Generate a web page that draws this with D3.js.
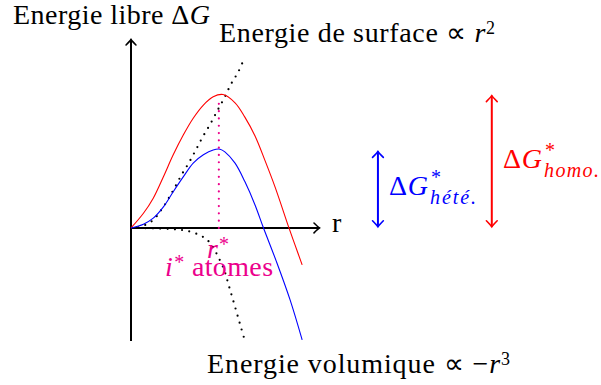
<!DOCTYPE html>
<html>
<head>
<meta charset="utf-8">
<script src="https://cdn.jsdelivr.net/npm/d3@7"></script>
<style>
  body { margin: 0; background: #fff; }
</style>
</head>
<body>
<div id="chart"></div>
<script>
// values, in axis units (r, deltaG)
var homoR = [0, 0.33, 0.59, 0.86, 1.12, 1.39, 1.65, 1.92, 2.18, 2.44, 2.76, 3.02, 3.29, 3.55, 3.82, 4.19, 4.35, 4.54];
var homoG = [0, 0.39, 0.79, 1.36, 1.94, 2.47, 2.91, 3.26, 3.48, 3.54, 3.32, 2.94, 2.44, 1.80, 1.09, 0, -0.45, -0.98];

var heteR = [0, 0.33, 0.59, 0.86, 1.12, 1.39, 1.65, 1.92, 2.18, 2.36, 2.49, 2.76, 3.02, 3.29, 3.51, 3.86, 4.22, 4.54];
var heteG = [0, 0.10, 0.26, 0.56, 0.96, 1.36, 1.72, 1.94, 2.07, 2.09, 2.02, 1.72, 1.23, 0.61, 0.01, -0.90, -1.91, -2.97];

var surfR = [0, 0.2, 0.42, 0.59, 0.72, 0.83, 0.95, 1.05, 1.15, 1.33, 1.53, 1.72, 1.90, 2.10, 2.29, 2.47, 2.65, 2.85, 3.02];
var surfG = [0, 0.02, 0.10, 0.21, 0.36, 0.52, 0.70, 0.88, 1.05, 1.39, 1.72, 2.07, 2.41, 2.75, 3.11, 3.44, 3.81, 4.15, 4.54];

var volR = [0, 0.6, 1.2, 1.5, 1.8, 2.0, 2.15, 2.3, 2.47, 2.6, 2.75, 2.9, 3.02];
var volG = [0, -0.01, -0.04, -0.08, -0.18, -0.3, -0.47, -0.74, -1.11, -1.55, -2.06, -2.58, -2.99];

var rStar = 2.33;          // critical radius
var rStarTop = 3.42;       // top of the dotted guide
var heteBarrier = [0.03, 2.03];
var homoBarrier = [0.03, 3.51];

var w = 601;
var h = 385;

var xScale = d3.scaleLinear().domain([0, 5]).range([131, 319.5]);
var yScale = d3.scaleLinear().domain([-3, 5]).range([341, 39.5]);

var magenta = "#ec008c";
var fs = 28;

var svg = d3.select("#chart")
    .append("svg")
    .attr("width", w)
    .attr("height", h)
    .attr("font-family", "Liberation Serif");

// tikz like "to" arrow tips
var defs = svg.append("defs");
function addTip(id, color, size) {
    defs.append("marker")
        .attr("id", id)
        .attr("viewBox", "-8 -7 10 14")
        .attr("refX", 0)
        .attr("refY", 0)
        .attr("markerWidth", 10)
        .attr("markerHeight", 14)
        .attr("markerUnits", "userSpaceOnUse")
        .attr("orient", "auto-start-reverse")
        .append("path")
        .attr("d", "M" + (-size) + "," + (-size * 0.9) + " Q-1.5,-1 0,0 Q-1.5,1 " + (-size) + "," + (size * 0.9))
        .attr("fill", "none")
        .attr("stroke", color)
        .attr("stroke-width", 1.6)
        .attr("stroke-linecap", "round");
}
addTip("tipK", "#000", 5.5);
addTip("tipB", "#00f", 6);
addTip("tipR", "#f00", 6);

function pts(rs, gs) {
    return rs.map(function (r, i) { return [r, gs[i]]; });
}

var line = d3.line()
    .x(function (d) { return xScale(d[0]); })
    .y(function (d) { return yScale(d[1]); })
    .curve(d3.curveCatmullRom.alpha(0.5));

// axes
svg.append("line")
    .attr("x1", xScale(0)).attr("y1", yScale(-3))
    .attr("x2", xScale(0)).attr("y2", yScale(5))
    .attr("stroke", "#000").attr("stroke-width", 2)
    .attr("marker-end", "url(#tipK)");

svg.append("line")
    .attr("x1", xScale(0)).attr("y1", yScale(0))
    .attr("x2", xScale(5)).attr("y2", yScale(0))
    .attr("stroke", "#000").attr("stroke-width", 2)
    .attr("marker-end", "url(#tipK)");

// dotted energy terms
[pts(surfR, surfG), pts(volR, volG)].forEach(function (d) {
    svg.append("path")
        .datum(d)
        .attr("d", line)
        .attr("fill", "none")
        .attr("stroke", "#000")
        .attr("stroke-width", 2.2)
        .attr("stroke-linecap", "round")
        .attr("stroke-dasharray", "0,7.3");
});

// total free energy curves
svg.append("path")
    .datum(pts(homoR, homoG))
    .attr("d", line)
    .attr("fill", "none")
    .attr("stroke", "#f00")
    .attr("stroke-width", 1.1);

svg.append("path")
    .datum(pts(heteR, heteG))
    .attr("d", line)
    .attr("fill", "none")
    .attr("stroke", "#00f")
    .attr("stroke-width", 1.1);

// r* guide
svg.append("line")
    .attr("x1", xScale(rStar)).attr("y1", yScale(0))
    .attr("x2", xScale(rStar)).attr("y2", yScale(rStarTop))
    .attr("stroke", magenta)
    .attr("stroke-width", 2.2)
    .attr("stroke-linecap", "round")
    .attr("stroke-dasharray", "0,7.3");

// barrier arrows
svg.append("line")
    .attr("x1", xScale(6.55)).attr("y1", yScale(heteBarrier[0]))
    .attr("x2", xScale(6.55)).attr("y2", yScale(heteBarrier[1]))
    .attr("stroke", "#00f").attr("stroke-width", 2)
    .attr("marker-start", "url(#tipB)")
    .attr("marker-end", "url(#tipB)");

svg.append("line")
    .attr("x1", xScale(9.57)).attr("y1", yScale(homoBarrier[0]))
    .attr("x2", xScale(9.57)).attr("y2", yScale(homoBarrier[1]))
    .attr("stroke", "#f00").attr("stroke-width", 2)
    .attr("marker-start", "url(#tipR)")
    .attr("marker-end", "url(#tipR)");

// stretch a label a little so it spans like the TeX original
function fit(t, width) {
    var n = t.text().length;
    var len = t.node().getComputedTextLength();
    if (n > 1) t.attr("letter-spacing", Math.max(0, (width - len) / (n - 1)));
    return t;
}

// labels
var t1 = svg.append("text").attr("x", 13).attr("y", 24).attr("font-size", fs);
t1.append("tspan").text("Energie libre \u0394");
t1.append("tspan").attr("font-style", "italic").text("G");
fit(t1, 197);

var t2 = svg.append("text").attr("x", 219).attr("y", 42).attr("font-size", fs);
t2.append("tspan").text("Energie de surface \u221d ");
t2.append("tspan").attr("font-style", "italic").text("r");
t2.append("tspan").attr("font-size", 18).attr("dy", -8).text("2");
fit(t2, 276);

var t3 = svg.append("text").attr("x", 207).attr("y", 373).attr("font-size", fs);
t3.append("tspan").text("Energie volumique \u221d \u2212");
t3.append("tspan").attr("font-style", "italic").text("r");
t3.append("tspan").attr("font-size", 18).attr("dy", -8).text("3");
fit(t3, 303);

svg.append("text").attr("x", 332).attr("y", 232).attr("font-size", fs).text("r");

var t4 = svg.append("text").attr("x", 207).attr("y", 258).attr("font-size", fs).attr("fill", magenta);
t4.append("tspan").attr("font-style", "italic").text("r");
t4.append("tspan").attr("font-size", 20).attr("dx", 1).attr("dy", -7).text("*");

var t5 = svg.append("text").attr("x", 165).attr("y", 276).attr("font-size", fs).attr("fill", magenta);
t5.append("tspan").attr("font-style", "italic").text("i");
t5.append("tspan").attr("font-size", 20).attr("dx", 1).attr("dy", -7).text("*");
t5.append("tspan").attr("dy", 7).text(" atomes");
fit(t5, 107);

function barrierLabel(x, y, sub, subWidth, color) {
    var main = svg.append("text").attr("x", x).attr("y", y).attr("font-size", fs).attr("fill", color);
    main.append("tspan").text("\u0394");
    main.append("tspan").attr("font-style", "italic").text("G");
    fit(main, 39);
    var x2 = x + 41;
    svg.append("text").attr("x", x2 + 1).attr("y", y - 11).attr("font-size", 20).attr("fill", color).text("*");
    var s = svg.append("text").attr("x", x2).attr("y", y + 8.5).attr("font-size", 20)
        .attr("font-style", "italic").attr("fill", color).text(sub);
    fit(s, subWidth);
}
barrierLabel(389, 195, "h\u00e9t\u00e9.", 46, "#00f");
barrierLabel(503, 168, "homo.", 55, "#f00");
</script>
</body>
</html>
